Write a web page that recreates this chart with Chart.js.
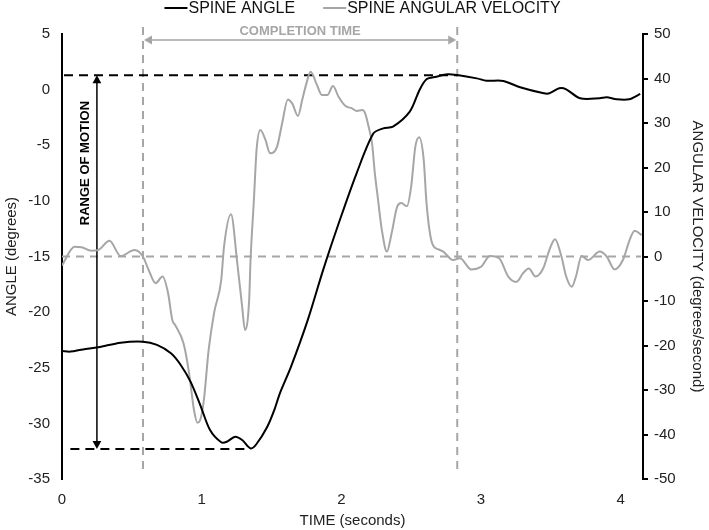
<!DOCTYPE html>
<html>
<head>
<meta charset="utf-8">
<script src="https://cdn.jsdelivr.net/npm/chart.js@4"></script>
<style>
  html, body { margin: 0; padding: 0; background: #fff; }
  #wrap { width: 709px; height: 530px; }
</style>
</head>
<body>
<div id="wrap"><canvas id="spineChart" width="709" height="530"></canvas></div>
<script>
// spine angle (degrees) against time (seconds)
var angleTime = [0, 0.06, 0.15, 0.26, 0.42, 0.58, 0.68, 0.78, 0.85, 0.92, 0.99, 1.06, 1.14, 1.18, 1.24, 1.29, 1.35, 1.39, 1.47, 1.52, 1.56, 1.64, 1.76, 1.87, 1.99, 2.11, 2.23, 2.30, 2.37, 2.49, 2.56, 2.61, 2.68, 2.76, 2.83, 2.97, 3.04, 3.16, 3.28, 3.45, 3.49, 3.56, 3.61, 3.71, 3.85, 3.90, 3.97, 4.06, 4.14];
var spineAngle = [-23.5, -23.55, -23.35, -23.16, -22.75, -22.66, -22.95, -23.7, -24.75, -26.25, -28.35, -30.6, -31.7, -31.65, -31.2, -31.5, -32.25, -31.9, -30.3, -28.8, -27.3, -24.9, -20.7, -16.2, -11.7, -7.5, -3.93, -3.48, -3.33, -1.98, -0.03, 0.93, 1.16, 1.38, 1.31, 1.01, 0.8, 0.78, 0.21, -0.33, -0.33, 0.12, 0.03, -0.78, -0.78, -0.69, -0.87, -0.87, -0.39];

// spine angular velocity (degrees/second) against time (seconds)
var velocityTime = [0, 0.09, 0.14, 0.21, 0.26, 0.34, 0.42, 0.52, 0.58, 0.62, 0.67, 0.72, 0.76, 0.79, 0.81, 0.87, 0.91, 0.945, 0.97, 0.99, 1.016, 1.05, 1.09, 1.14, 1.16, 1.21, 1.255, 1.29, 1.31, 1.34, 1.35, 1.374, 1.393, 1.42, 1.457, 1.49, 1.54, 1.576, 1.617, 1.648, 1.69, 1.72, 1.75, 1.78, 1.826, 1.86, 1.90, 1.94, 1.98, 2.03, 2.076, 2.11, 2.15, 2.17, 2.195, 2.22, 2.24, 2.26, 2.29, 2.326, 2.36, 2.40, 2.43, 2.47, 2.50, 2.53, 2.557, 2.59, 2.61, 2.65, 2.695, 2.73, 2.80, 2.85, 2.93, 3.00, 3.064, 3.13, 3.195, 3.255, 3.30, 3.343, 3.39, 3.445, 3.49, 3.53, 3.576, 3.61, 3.65, 3.68, 3.72, 3.766, 3.85, 3.90, 3.957, 4.016, 4.064, 4.10, 4.15];
var spineVelocity = [-2.0, 2.2, 2.07, 1.3, 1.46, 3.55, 0.11, 1.46, -0.04, -3.0, -6.0, -4.5, -8.3, -14.3, -15.4, -19.5, -26.2, -34.5, -37.35, -36.7, -32.2, -21, -12.5, -5.3, 2.2, 9.5, -1.5, -11.3, -16.5, -9.8, -0.8, 12.7, 23.9, 28.4, 26.2, 23.2, 24.7, 29.9, 35.3, 34.4, 31.6, 35.2, 38.9, 41.5, 38.5, 36.3, 36.3, 38.3, 35.9, 33.8, 33.3, 32.7, 32.9, 32.2, 29.2, 25.4, 18.7, 13.5, 6.0, 1.1, 5.2, 11.2, 12.0, 11.3, 15.7, 24.7, 26.8, 21.7, 12.0, 3.0, 1.6, 1.1, -0.8, -0.4, -2.9, -2.3, 0.1, -0.4, -4.5, -5.7, -3.8, -2.7, -4.5, -2.7, 1.5, 3.9, 0.0, -4.5, -6.8, -4.5, 0.1, -0.8, 1.1, 0.0, -2.9, -0.8, 3.7, 5.8, 4.8];

var angleTicks = [-35, 5];
var velocityTicks = [-50, 50];
var timeRange = [0, 4.16];

// reference marks
var rangeOfMotion = [-32.3, 1.3];     // degrees
var completionTime = [0.58, 2.83];    // seconds

var black = '#000000';
var gray = '#a6a6a6';
var fontFamily = '"Liberation Sans", Arial, sans-serif';

function toPoints(xs, ys) {
    return xs.map(function(x, i) { return { x: x, y: ys[i] }; });
}

function arrowHead(ctx, x, y, dir, size) {
    ctx.beginPath();
    if (dir === 'up') { ctx.moveTo(x, y); ctx.lineTo(x - size * 0.55, y + size); ctx.lineTo(x + size * 0.55, y + size); }
    if (dir === 'down') { ctx.moveTo(x, y); ctx.lineTo(x - size * 0.55, y - size); ctx.lineTo(x + size * 0.55, y - size); }
    if (dir === 'left') { ctx.moveTo(x, y); ctx.lineTo(x + size, y - size * 0.55); ctx.lineTo(x + size, y + size * 0.55); }
    if (dir === 'right') { ctx.moveTo(x, y); ctx.lineTo(x - size, y - size * 0.55); ctx.lineTo(x - size, y + size * 0.55); }
    ctx.closePath();
    ctx.fill();
}

var markers = {
    id: 'markers',
    beforeDatasetsDraw: function(chart) {
        var ctx = chart.ctx;
        var xs = chart.scales.x, ya = chart.scales.yAngle, yv = chart.scales.yVelocity;
        var area = chart.chartArea;
        ctx.save();
        ctx.lineWidth = 2;

        // zero velocity line
        ctx.strokeStyle = gray;
        ctx.setLineDash([8, 6]);
        var y0 = yv.getPixelForValue(0);
        ctx.beginPath();
        ctx.moveTo(area.left, y0);
        ctx.lineTo(area.right - 2, y0);
        ctx.stroke();

        // completion time verticals
        var xStart = xs.getPixelForValue(completionTime[0]);
        var xEnd = xs.getPixelForValue(completionTime[1]);
        [xStart, xEnd].forEach(function(px) {
            ctx.beginPath();
            ctx.moveTo(px, area.top - 7);
            ctx.lineTo(px, area.bottom - 6);
            ctx.stroke();
        });

        // range of motion horizontals
        ctx.strokeStyle = black;
        ctx.setLineDash([9, 6]);
        var yTop = ya.getPixelForValue(rangeOfMotion[1]);
        var yBot = ya.getPixelForValue(rangeOfMotion[0]);
        ctx.beginPath();
        ctx.moveTo(area.left + 2, yTop);
        ctx.lineTo(xEnd, yTop);
        ctx.stroke();
        ctx.beginPath();
        ctx.moveTo(xs.getPixelForValue(0.06), yBot);
        ctx.lineTo(xs.getPixelForValue(1.35), yBot);
        ctx.stroke();

        // range of motion arrow
        ctx.setLineDash([]);
        ctx.lineWidth = 1.5;
        var xArrow = xs.getPixelForValue(0.25);
        ctx.beginPath();
        ctx.moveTo(xArrow, yTop + 6);
        ctx.lineTo(xArrow, yBot - 6);
        ctx.stroke();
        ctx.fillStyle = black;
        arrowHead(ctx, xArrow, yTop, 'up', 8);
        arrowHead(ctx, xArrow, yBot, 'down', 8);

        ctx.save();
        ctx.translate(xs.getPixelForValue(0.17), ya.getPixelForValue(-6.6));
        ctx.rotate(-Math.PI / 2);
        ctx.font = 'bold 13px ' + fontFamily;
        ctx.textAlign = 'center';
        ctx.textBaseline = 'middle';
        ctx.fillText('RANGE OF MOTION', 0, 0);
        ctx.restore();

        // completion time arrow
        ctx.strokeStyle = gray;
        ctx.fillStyle = gray;
        var yArrow = area.top + 6;
        ctx.beginPath();
        ctx.moveTo(xStart + 6, yArrow);
        ctx.lineTo(xEnd - 6, yArrow);
        ctx.stroke();
        arrowHead(ctx, xStart + 1, yArrow, 'left', 8);
        arrowHead(ctx, xEnd - 1, yArrow, 'right', 8);
        ctx.font = 'bold 13px ' + fontFamily;
        ctx.textAlign = 'center';
        ctx.textBaseline = 'middle';
        ctx.fillText('COMPLETION TIME', (xStart + xEnd) / 2, area.top - 3);

        ctx.restore();
    },
    afterDraw: function(chart) {
        // legend: short line then label, no gap, like the original
        var ctx = chart.ctx;
        var sets = chart.data.datasets;
        ctx.save();
        ctx.font = '16px ' + fontFamily;
        ctx.textBaseline = 'middle';
        ctx.textAlign = 'left';
        var lineLen = 23, gap = 29;
        var total = 0;
        sets.forEach(function(ds, i) {
            total += lineLen + ctx.measureText(ds.label).width + (i ? gap : 0);
        });
        var x = 362 - total / 2, y = 8;
        sets.forEach(function(ds) {
            ctx.strokeStyle = ds.borderColor;
            ctx.lineWidth = 2;
            ctx.beginPath();
            ctx.moveTo(x, y);
            ctx.lineTo(x + lineLen, y);
            ctx.stroke();
            ctx.fillStyle = '#111';
            ctx.fillText(ds.label, x + lineLen + 1, y + 1);
            x += lineLen + ctx.measureText(ds.label).width + gap;
        });
        ctx.restore();
    }
};

var ctx = document.getElementById('spineChart').getContext('2d');
Chart.defaults.font.family = fontFamily;
Chart.defaults.color = '#222';

var chart = new Chart(ctx, {
    type: 'line',
    data: {
        datasets: [{
            label: 'SPINE ANGLE',
            data: toPoints(angleTime, spineAngle),
            yAxisID: 'yAngle',
            borderColor: black,
            backgroundColor: black,
            borderWidth: 2,
            pointRadius: 0,
            tension: 0.3
        }, {
            label: 'SPINE ANGULAR VELOCITY',
            data: toPoints(velocityTime, spineVelocity),
            yAxisID: 'yVelocity',
            borderColor: gray,
            backgroundColor: gray,
            borderWidth: 2,
            pointRadius: 0,
            cubicInterpolationMode: 'monotone'
        }]
    },
    options: {
        responsive: false,
        animation: false,
        layout: { padding: { top: 34, bottom: 0, left: 0, right: 0 } },
        plugins: {
            legend: { display: false },
            tooltip: { enabled: false }
        },
        scales: {
            x: {
                type: 'linear',
                min: timeRange[0],
                max: timeRange[1],
                afterFit: function(scale) { scale.height = 51; },
                grid: { display: false, drawTicks: false },
                border: { display: false },
                ticks: { stepSize: 1, includeBounds: false, font: { size: 15 }, padding: 12, color: '#222' },
                title: { display: true, text: 'TIME (seconds)', font: { size: 15 }, color: '#222', padding: { top: 2, bottom: 0 } }
            },
            yAngle: {
                position: 'left',
                min: angleTicks[0],
                max: angleTicks[1],
                afterFit: function(scale) { scale.width = 62; },
                grid: { display: false, drawTicks: false },
                border: { display: true, color: black, width: 2 },
                ticks: { stepSize: 5, font: { size: 15 }, padding: 12, color: '#222' },
                title: { display: true, text: 'ANGLE (degrees)', font: { size: 15 }, color: '#222', padding: 3 }
            },
            yVelocity: {
                position: 'right',
                min: velocityTicks[0],
                max: velocityTicks[1],
                afterFit: function(scale) { scale.width = 66; },
                grid: { display: true, drawOnChartArea: false, color: black, lineWidth: 2, tickLength: 5 },
                border: { display: true, color: black, width: 2 },
                ticks: { stepSize: 10, font: { size: 15 }, padding: 6, color: '#222' },
                title: { display: true, text: 'ANGULAR VELOCITY (degrees/second)', font: { size: 15 }, color: '#222', padding: 3 }
            }
        }
    },
    plugins: [markers]
});
</script>
</body>
</html>
